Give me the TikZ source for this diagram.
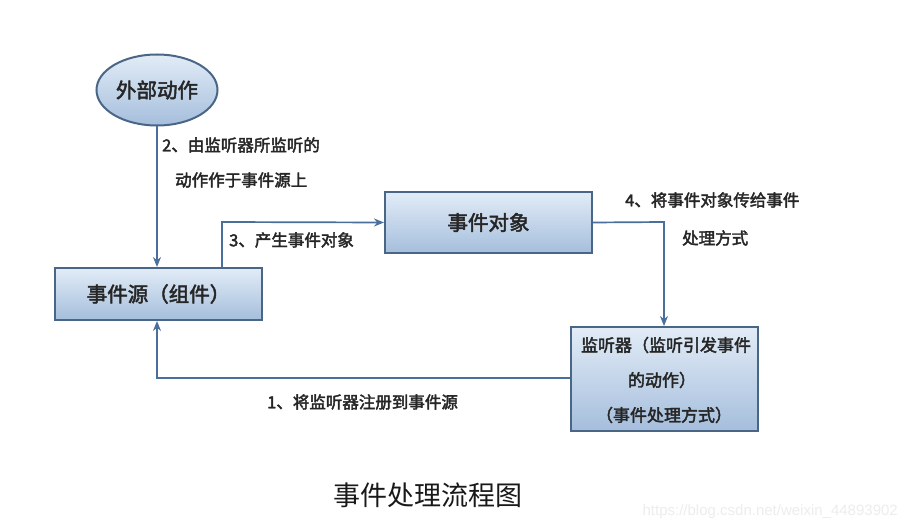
\documentclass[tikz,border=0pt]{standalone}
\usepackage{fontspec}
\usetikzlibrary{shapes.geometric,arrows.meta,shadows}
\newfontfamily\cjk{Noto Sans CJK SC}
\newfontfamily\cjkb[FakeBold=2.4]{Noto Sans CJK SC}
\definecolor{edgeblue}{HTML}{4A6687}
\definecolor{boxtop}{HTML}{E2ECF7}
\definecolor{boxbot}{HTML}{A5BEDC}
\definecolor{arrowblue}{HTML}{4A6F9C}
\tikzset{
  box/.style={draw=edgeblue, line width=2pt, top color=boxtop, bottom color=boxbot,
    inner sep=0pt, font=\cjkb\fontsize{20.5}{24}\selectfont, text=black!85, align=center},
  conn/.style={draw=arrowblue, line width=1.7pt, -{Stealth[length=10pt,width=8pt]}},
  lbl/.style={font=\cjkb\fontsize{16.5}{20}\selectfont, text=black!85, align=left, inner sep=0pt},
  lisl/.style={font=\cjkb\fontsize{17}{20}\selectfont, text=black!85, inner sep=0pt},
}
\begin{document}
\begin{tikzpicture}[x=1pt,y=-1pt]
\useasboundingbox[fill=white] (0,0) rectangle (906,529);
% nodes
\node[box, ellipse, minimum width=121pt, minimum height=71pt] (ext) at (157,90) {外部动作};
\node[box, rectangle, minimum width=207pt, minimum height=52pt] (src) at (158.5,294) {事件源（组件）};
\node[box, rectangle, minimum width=207pt, minimum height=61pt] (obj) at (488.5,222.5) {事件对象};
\node[box, rectangle, minimum width=187pt, minimum height=104pt] (lis) at (664.5,379) {};
\node[lisl] (l1) at (666,345) {监听器（监听引发事件};
\node[lisl] (l2) at (662,380) {的动作）};
\node[lisl] (l3) at (664,415) {（事件处理方式）};
% turning points
\coordinate (p3a) at (222,222);
\coordinate (p4a) at (664,222);
\coordinate (p1a) at (157,378);
% connectors
\draw[conn] (ext.south) -- (ext.south |- src.north);
\draw[conn] (src.north -| p3a) -- (p3a) -- (obj.west);
\draw[conn] (obj.east) -- (p4a) -- (p4a |- lis.north);
\draw[conn] (lis.west |- p1a) -- (p1a) -- (p1a |- src.south);
% labels
\node[lbl, anchor=west] (t2a) at (162,145) {2、由监听器所监听的};
\node[lbl, anchor=west] (t2b) at (175,180) {动作作于事件源上};
\node[lbl, anchor=west] (t3) at (229,240) {3、产生事件对象};
\node[lbl, anchor=west] (t4a) at (625,200) {4、将事件对象传给事件};
\node[lbl, anchor=west] (t4b) at (682,238) {处理方式};
\node[lbl, anchor=west] (t1) at (267,402) {1、将监听器注册到事件源};
\node[font=\cjk\fontsize{27}{32}\selectfont, text=black!90, inner sep=0pt] (cap) at (428,495) {事件处理流程图};
\node[font=\fontspec{Liberation Sans}\fontsize{15}{18}\selectfont, text=black!7, inner sep=0pt, anchor=east] (wm) at (898,512) {https://blog.csdn.net/weixin\_44893902};
\end{tikzpicture}
\end{document}
